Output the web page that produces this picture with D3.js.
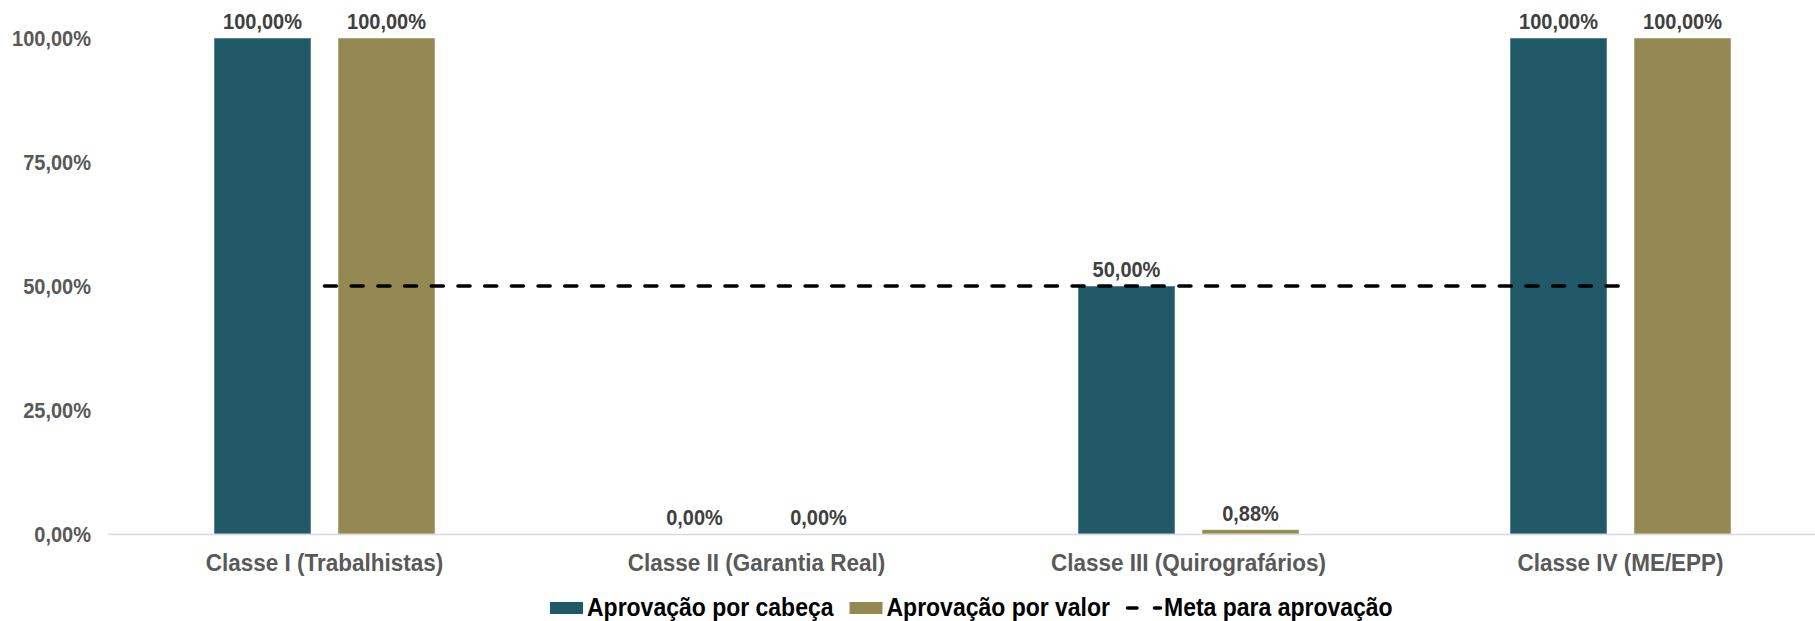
<!DOCTYPE html>
<html>
<head>
<meta charset="utf-8">
<script src="https://cdn.jsdelivr.net/npm/d3@7"></script>
<style>
  html, body { margin: 0; padding: 0; background: #ffffff; }
  svg { display: block; font-family: "Liberation Sans", Arial, sans-serif; font-weight: bold; }
  text { font-family: "Liberation Sans", Arial, sans-serif; font-weight: bold; }
</style>
</head>
<body>
<svg id="chart" width="1815" height="621"></svg>
<script>
const categories = ["Classe I (Trabalhistas)", "Classe II (Garantia Real)", "Classe III (Quirografários)", "Classe IV (ME/EPP)"];
const seriesNames = ["Aprovação por cabeça", "Aprovação por valor"];
const porCabeca = [1.00, 0.00, 0.50, 1.00];
const porValor = [1.00, 0.00, 0.0088, 1.00];
const meta = [0.50, 0.50, 0.50, 0.50];
const metaName = "Meta para aprovação";
const yTicks = [0, 0.25, 0.5, 0.75, 1.0];

const colors = ["#225968", "#958953"];
const SY = 1.1; // vertical stretch of glyphs seen in the reference
const fmt = v => d3.format(".2f")(v * 100).replace(".", ",") + "%";

const svg = d3.select("#chart");
const x0 = d3.scaleBand().domain(categories).range([108.5, 1836.5]).padding(0);
const x1 = d3.scaleBand().domain(seriesNames).range([0, x0.bandwidth()]).paddingInner(0.2177).paddingOuter(0.8508);
const y = d3.scaleLinear().domain([0, 1]).range([534, 38]);

function stretchedText(sel, x, yy) {
  sel.attr("x", 0).attr("y", 0)
     .attr("transform", (d, i) => `translate(${x(d, i)},${yy(d, i)}) scale(1,${SY})`);
}

// y axis labels
const yAxis = d3.axisLeft(y).tickValues(yTicks).tickFormat(fmt).tickSize(0).tickPadding(0);
const gy = svg.append("g").attr("transform", "translate(91,0)").call(yAxis);
gy.select(".domain").remove();
gy.selectAll("text").attr("fill", "#595959").attr("dy", null)
  .attr("transform", `translate(0,7.3) scale(1,${SY})`).attr("x", 0).attr("y", 0)
  .style("font-size", "20px");

// bars
const series = [porCabeca, porValor];
series.forEach((vals, si) => {
  svg.append("g").selectAll("rect").data(categories).join("rect")
    .attr("x", c => x0(c) + x1(seriesNames[si]))
    .attr("width", x1.bandwidth())
    .attr("y", (c, i) => y(vals[i]))
    .attr("height", (c, i) => y(0) - y(vals[i]))
    .attr("fill", colors[si])
    .attr("stroke", "#ffffff").attr("stroke-opacity", 0.5).attr("stroke-width", 1);
});

// x axis line + category labels
const xAxis = d3.axisBottom(x0).tickSize(0).tickPadding(0);
const gx = svg.append("g").attr("transform", `translate(0,${y(0)})`).call(xAxis);
gx.select(".domain").attr("stroke", "#d9d9d9").attr("stroke-width", 1.5).attr("d", `M108,0.5H1815`);
gx.selectAll("text").attr("fill", "#595959").attr("dy", null).attr("x", 0).attr("y", 0)
  .attr("transform", `translate(0,36.5) scale(1,${SY})`)
  .style("font-size", "22.5px");

// meta line
const line = d3.line().x(c => x0(c) + x0.bandwidth() / 2).y((c, i) => y(meta[i]));
svg.append("path").datum(categories).attr("d", line)
  .attr("fill", "none").attr("stroke", "#000").attr("stroke-width", 3.6)
  .attr("stroke-dasharray", "12,14.7").attr("stroke-linecap", "round");

// data labels
series.forEach((vals, si) => {
  svg.append("g").selectAll("text").data(categories).join("text")
    .call(stretchedText, c => x0(c) + x1(seriesNames[si]) + x1.bandwidth() / 2, (c, i) => y(vals[i]) - 9)
    .attr("text-anchor", "middle")
    .attr("fill", "#404040").style("font-size", "20px")
    .text((c, i) => fmt(vals[i]));
});

// legend
const lg = svg.append("g");
let lx = 550;
const ly = 608;
seriesNames.forEach((name, i) => {
  lg.append("rect").attr("x", lx).attr("y", ly - 6).attr("width", 33).attr("height", 12).attr("fill", colors[i]);
  const t = lg.append("text").attr("x", 0).attr("y", 0)
    .attr("transform", `translate(${lx + 37},${ly + 7.5}) scale(1,${SY})`)
    .attr("fill", "#000").style("font-size", "23px").text(name);
  lx = lx + 37 + t.node().getComputedTextLength() + 16;
});
lg.append("path").attr("d", `M${lx + 1.5},${ly}H${lx + 11}M${lx + 28.5},${ly}H${lx + 34.5}`)
  .attr("stroke", "#000").attr("stroke-width", 3.6).attr("stroke-linecap", "round");
lg.append("text").attr("x", 0).attr("y", 0)
  .attr("transform", `translate(${lx + 38},${ly + 7.5}) scale(1,${SY})`)
  .attr("fill", "#000").style("font-size", "23px").text(metaName);
</script>
</body>
</html>
